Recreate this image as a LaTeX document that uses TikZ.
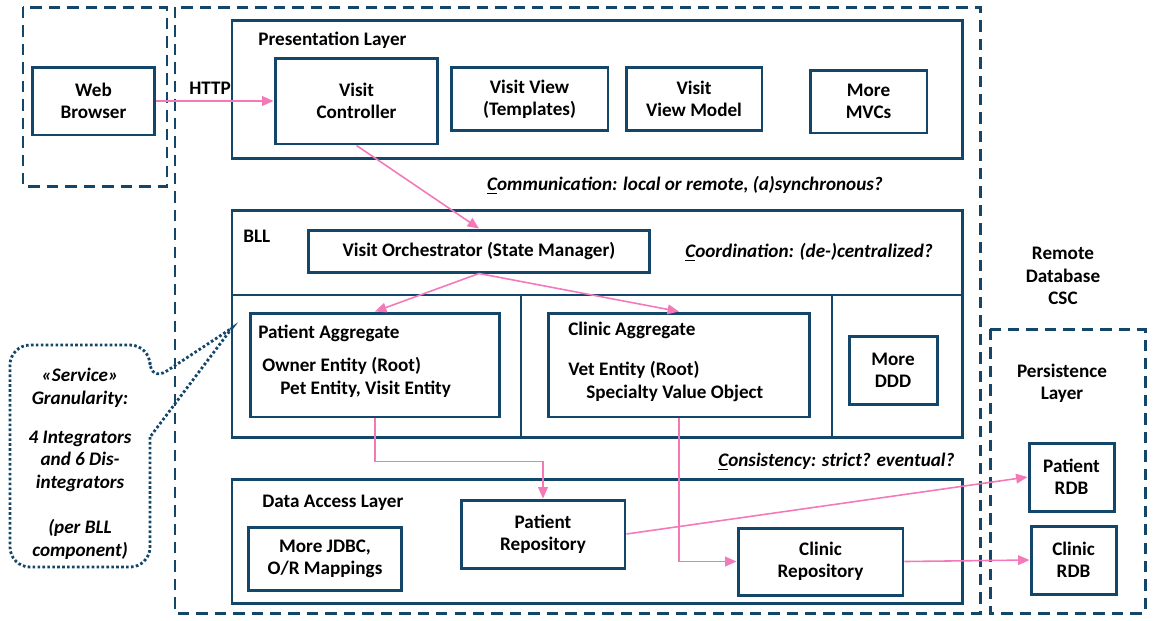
\documentclass[tikz,border=0pt]{standalone}
\usepackage{fontspec}
\setmainfont{Carlito}
\usetikzlibrary{arrows.meta,positioning}
\definecolor{layerblue}{RGB}{20,70,105}
\definecolor{flowpink}{RGB}{245,120,185}

\begin{document}
\begin{tikzpicture}[x=0.02cm,y=-0.02cm,
  font=\fontsize{10.9}{12.7}\selectfont\bfseries,
  comp/.style={draw=layerblue,line width=1.7pt,align=center,inner sep=0pt},
  layer/.style={draw=layerblue,line width=1.7pt},
  zone/.style={draw=layerblue,line width=1.7pt,dash pattern=on 6.5pt off 4pt},
  sub/.style={draw=layerblue,line width=0.6pt},
  flow/.style={draw=flowpink,line width=0.9pt,-{Triangle[length=6.5pt,width=5.5pt]}},
  tag/.style={anchor=west,inner sep=0pt},
  question/.style={tag,font=\fontsize{10.9}{12.7}\selectfont\bfseries\itshape},
  callout/.style={draw=layerblue,line width=1.6pt,dash pattern=on 1.5pt off 1.3pt}]
  \useasboundingbox (0,0) rectangle (1158,620);

  % zones
  \draw[zone] (23,7) rectangle (167,186);
  \draw[zone] (175,7) rectangle (980,613);
  \draw[zone] (990,329) rectangle (1145,613);

  % layers
  \draw[layer] (232,20) rectangle (962,158);
  \draw[layer] (232,210) rectangle (962,437);
  \draw[layer] (232,479) rectangle (962,603);
  \draw[sub] (232,295) -- (962,295);
  \draw[sub] (521,295) -- (521,437);
  \draw[sub] (832,295) -- (832,437);

  \node[tag] (presentation) at (258,40) {Presentation Layer};
  \node[tag] (bll) at (243,236) {BLL};
  \node[tag] (dal) at (262,503) {Data Access Layer};

  \node[comp,minimum width=2.46cm,minimum height=1.36cm] (browser) at (93.5,101) {Web\\Browser};
  \node[comp,minimum width=3.26cm,minimum height=1.72cm] (controller) at (356.5,101) {Visit\\Controller};
  \node[comp,minimum width=3.14cm,minimum height=1.26cm] (viewtpl) at (529.5,99) {Visit View\\(Templates)};
  \node[comp,minimum width=2.72cm,minimum height=1.26cm] (viewmodel) at (694,99) {Visit\\View Model};
  \node[comp,minimum width=2.34cm,minimum height=1.26cm] (moremvc) at (868.5,101.5) {More\\MVCs};

  \node[comp,minimum width=6.84cm,minimum height=0.84cm] (orch) at (479,251) {Visit Orchestrator (State Manager)};
  \node[comp,minimum width=5.00cm,minimum height=2.08cm] (patagg) at (375,365) {};
  \node[comp,minimum width=5.24cm,minimum height=2.08cm] (clinagg) at (679,365) {};
  \node[comp,minimum width=1.76cm,minimum height=1.36cm] (moreddd) at (893,370) {More\\DDD};

  \node[tag] (pataggname) at (258,333) {Patient Aggregate};
  \node[tag] (owner) at (262,366) {Owner Entity (Root)};
  \node[tag] (pet) at (280,389) {Pet Entity, Visit Entity};
  \node[tag] (clinaggname) at (568,330) {Clinic Aggregate};
  \node[tag] (vet) at (568,370) {Vet Entity (Root)};
  \node[tag] (specialty) at (586,393) {Specialty Value Object};

  \node[comp,minimum width=3.08cm,minimum height=1.26cm] (morejdbc) at (325,558.5) {More JDBC,\\O/R Mappings};
  \node[comp,minimum width=3.28cm,minimum height=1.36cm] (patrepo) at (543,534) {Patient\\Repository};
  \node[comp,minimum width=3.30cm,minimum height=1.34cm] (clinrepo) at (820.5,561.5) {Clinic\\Repository};

  \node[align=center] (remote) at (1063,276) {Remote\\Database\\CSC};
  \node[align=center] (persistence) at (1062,383) {Persistence\\Layer};
  \node[comp,minimum width=1.70cm,minimum height=1.36cm] (patrdb) at (1071.5,477) {Patient\\RDB};
  \node[comp,minimum width=1.70cm,minimum height=1.36cm] (clinrdb) at (1073.5,560) {Clinic\\RDB};

  \node (http) at (210,88) {HTTP};
  \node[question,anchor=center] (communication) at (685,185) {\underline{C}ommunication: local or remote, (a)synchronous?};
  \node[question] (coordination) at (685,252) {\underline{C}oordination: (de-)centralized?};
  \node[question] (consistency) at (718,462) {\underline{C}onsistency: strict? eventual?};

  % flows
  \draw[flow] (browser.east) -- (controller.west);
  \draw[flow] (controller.south) -- (orch.north);
  \draw[flow] (orch.south) -- (patagg.north);
  \draw[flow] (orch.south) -- (clinagg.north);
  \draw[flow] (patagg.south) -- ++(0,43) -| (patrepo.north);
  \draw[flow] (clinagg.south) |- (clinrepo.west);
  \draw[flow] (patrepo.east) -- (patrdb.west);
  \draw[flow] (clinrepo.east) -- (clinrdb.west);

  % granularity note
  \coordinate (bllcorner) at (232,328);
  \draw[callout] (150,437) [rounded corners=0.4cm] -- (150,567) -- (10,567) -- (10,345) -- (150,345) -- (150,382) [sharp corners] -- (bllcorner) -- cycle;
  \node[align=center,font=\fontsize{10.9}{12.9}\selectfont\bfseries\itshape] (granularity) at (80,464)
    {«Service»\\Granularity:\\[9pt]4 Integrators\\and 6 Dis-\\integrators\\[13pt](per BLL\\component)};
\end{tikzpicture}
\end{document}
